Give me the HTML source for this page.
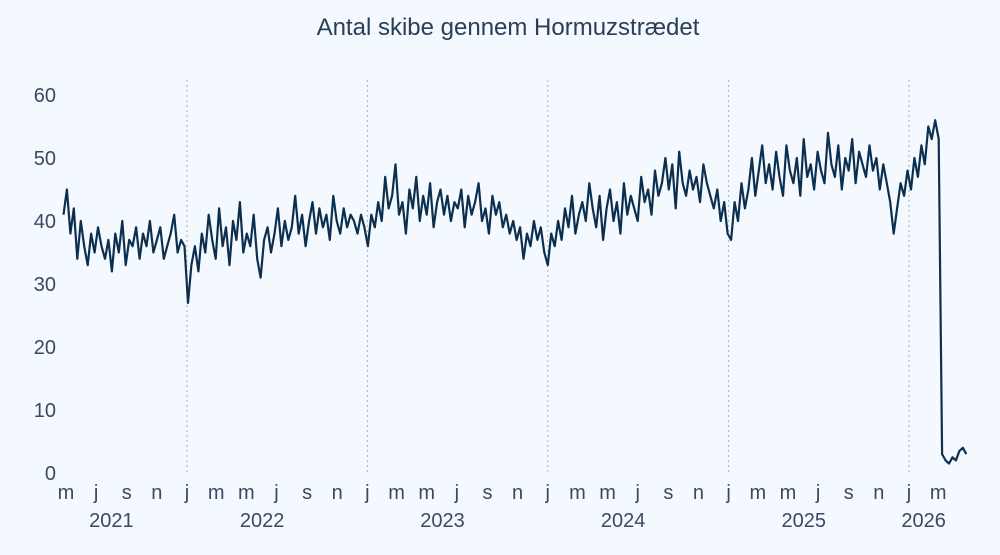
<!DOCTYPE html>
<html><head><meta charset="utf-8"><style>
html,body{margin:0;padding:0;background:#f3f9fe;}
svg{display:block;font-family:"Liberation Sans",sans-serif;}
</style></head><body>
<svg id="chart" width="1000" height="555" viewBox="0 0 1000 555">
<rect width="1000" height="555" fill="#f3f9fe"/>
<text x="508" y="35" text-anchor="middle" font-size="24" fill="#2a3e55">Antal skibe gennem Hormuzstrædet</text>
<g id="grid"></g><g id="yaxis"></g><g id="xaxis"></g><g id="series"></g>
</svg>
<script>
const yTicks=[0,10,20,30,40,50,60];
const monthLetters=["j","m","m","j","s","n"];
const years=["2021","2022","2023","2024","2025","2026"];
const startDate="2021-04-26";
const values2021=[41,45,38,42,34,40,36,33,38,35,39,36,34,37,32,38,35,40,33,37,36,39,34,38,36,40,35,37,39,34,36,38,41,35,37,36];
const values2022=[27,33,36,32,38,35,41,37,34,42,36,39,33,40,37,43,35,38,36,41,34,31,37,39,35,38,42,36,40,37,39,44,38,41,36,40,43,38,42,39,41,37,44,40,38,42,39,41,40,38,41,39];
const values2023=[36,41,39,43,40,47,42,44,49,41,43,38,45,42,47,40,44,41,46,39,43,45,41,44,40,43,42,45,39,44,41,43,46,40,42,38,44,41,43,39,41,38,40,37,39,34,38,36,40,37,39,35];
const values2024=[33,38,36,40,37,42,39,44,38,41,43,40,46,42,39,44,37,42,45,40,43,38,46,41,44,42,40,47,43,45,41,48,44,46,50,45,49,42,51,46,44,48,45,47,43,49,46,44,42,45,40,43];
const values2025=[38,37,43,40,46,42,45,50,44,48,52,46,49,45,51,47,44,52,48,46,50,44,53,47,49,45,51,48,46,54,49,47,52,45,50,48,53,46,51,49,47,52,48,50,45,49,46,43,38,42,46,44];
const values2026=[48,45,50,47,52,49,55,53,56,53,3,2,1.5,2.5,2,3.5,4,3];

const NS="http://www.w3.org/2000/svg";
const ref=Date.UTC(2022,0,1);
function xScale(ms){return 187+(ms-ref)/86400000*180.5/365.25;}
function yScale(v){return 473-v*6.3;}
function mk(tag,attrs,parent){const e=document.createElementNS(NS,tag);for(const k in attrs)e.setAttribute(k,attrs[k]);parent.appendChild(e);return e;}

const grid=document.getElementById('grid'),ya=document.getElementById('yaxis'),xa=document.getElementById('xaxis'),ser=document.getElementById('series');
yTicks.forEach(t=>{
  const el=mk('text',{x:56,y:yScale(t)+7,'text-anchor':'end','font-size':20,fill:'#3b4a5e'},ya);
  el.textContent=t;
  
  
});
for(let y=2022;y<=2026;y++){
  const x=xScale(Date.UTC(y,0,1));
  const l=mk('line',{x1:x,x2:x,y1:80,y2:473,stroke:'#a9b0b8','stroke-width':1,'stroke-dasharray':'2,3'},grid);
  
  
}
for(let y=2021;y<=2026;y++){
  for(let m=0;m<12;m+=2){
    const d=Date.UTC(y,m,1);
    if(d<Date.UTC(2021,4,1)||d>Date.UTC(2026,2,1))continue;
    const el=mk('text',{x:xScale(d),y:499,'text-anchor':'middle','font-size':20,fill:'#3b4a5e'},xa);
    el.textContent=monthLetters[m/2];
    
    
  }
}
years.forEach((yr,i)=>{
  const y=+yr;
  let a=Math.max(Date.UTC(y,0,1),Date.UTC(2021,4,1)),b=Math.min(Date.UTC(y,10,1),Date.UTC(2026,2,1));
  const el=mk('text',{x:(xScale(a)+xScale(b))/2,y:527,'text-anchor':'middle','font-size':20,fill:'#3b4a5e'},xa);
  el.textContent=yr;
  
  
});
const all=[].concat(values2021,values2022,values2023,values2024,values2025,values2026);
const s0=Date.parse(startDate+"T00:00:00Z");
const pts=all.map((v,i)=>xScale(s0+i*7*86400000).toFixed(1)+","+yScale(v).toFixed(1));
const p=mk('polyline',{points:pts.join(" "),fill:'none',stroke:'#0d2f4f','stroke-width':2.2,'stroke-linejoin':'round'},ser);


</script>
</body></html>
